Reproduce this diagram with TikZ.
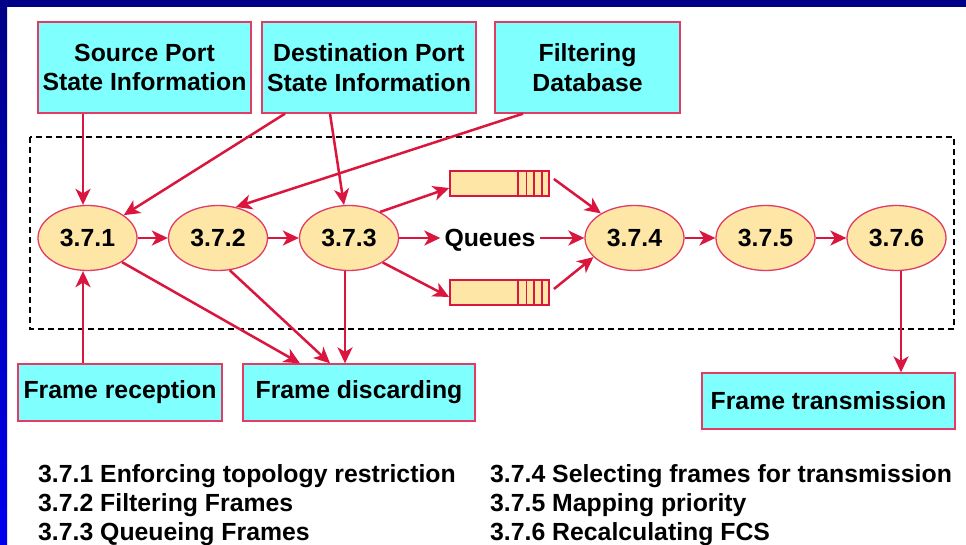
\documentclass[tikz,border=0pt]{standalone}
\usepackage{fontspec}
\setmainfont{Liberation Sans}
\usetikzlibrary{shapes.geometric,arrows.meta,calc}
\definecolor{crim}{RGB}{218,22,62}
\definecolor{boxline}{RGB}{225,60,100}
\definecolor{cyanfill}{RGB}{128,255,255}
\definecolor{ellfill}{RGB}{253,230,166}
\definecolor{navyband}{RGB}{0,0,136}
\definecolor{brightblue}{RGB}{0,0,240}
\begin{document}
\begin{tikzpicture}[x=1pt,y=-1pt,
  txt/.style={font=\fontsize{24.8}{29.3}\selectfont\bfseries},
  infobox/.style={txt, rectangle, draw=boxline, line width=1.3pt, fill=cyanfill, inner sep=0pt, align=center},
  ell/.style={txt, ellipse, draw=boxline, line width=1.3pt, fill=ellfill, minimum width=99pt, minimum height=65pt, inner sep=0pt},
  queue/.style={rectangle, draw=crim, line width=1.8pt, fill=ellfill, minimum width=99pt, minimum height=25pt, inner sep=0pt},
  stripe/.style={draw=crim, line width=1.8pt},
  arr/.style={draw=crim, line width=2.5pt, -{Stealth[length=16pt,width=15pt,inset=4.5pt]}},
  legend/.style={txt, anchor=base west, inner sep=0pt},
  frame/.style={draw=black, line width=1.8pt, dash pattern=on 6pt off 4pt}
]
\useasboundingbox (0,0) rectangle (966,545);
% background
\fill[white] (0,0) rectangle (966,545);
\fill[navyband] (0,0) rectangle (966,7.5);
\shade[top color=navyband, bottom color=brightblue] (0,7.5) rectangle (7,545);

% dashed frame
\draw[frame] (30,137) rectangle (954,329);

% information boxes
\node[infobox, minimum width=213pt, minimum height=91pt] (src) at (144.5,67.5) {Source Port\\State Information};
\node[infobox, minimum width=214pt, minimum height=91pt] (dst) at (369,67.5) {Destination Port\\State Information};
\node[infobox, minimum width=185pt, minimum height=91pt] (fdb) at (587.5,67.5) {Filtering\\Database};
\node[infobox, minimum width=204pt, minimum height=57pt] (rec) at (120,392.5) {Frame reception};
\node[infobox, minimum width=232pt, minimum height=57pt] (dis) at (359,392.5) {Frame discarding};
\node[infobox, minimum width=253pt, minimum height=56pt] (tx) at (828.5,401) {Frame transmission};

% process ellipses
\node[ell] (e1) at (87.5,238) {3.7.1};
\node[ell] (e2) at (218,238) {3.7.2};
\node[ell] (e3) at (349,238) {3.7.3};
\node[ell] (e4) at (634.5,238) {3.7.4};
\node[ell] (e5) at (765.5,238) {3.7.5};
\node[ell] (e6) at (896.5,238) {3.7.6};

% queues
\node[queue] (q1) at (499.5,183.5) {};
\node[queue] (q2) at (499.5,292.5) {};
\foreach \q in {q1,q2}{
  \foreach \f in {0.687,0.768,0.842,0.921}{
    \draw[stripe] ($(\q.north west)!\f!(\q.north east)$) -- ($(\q.south west)!\f!(\q.south east)$);
  }
}
\node[txt, inner sep=4pt] (qt) at (490,240) {Queues};

% helper coordinates
\coordinate (t1) at ([xshift=-4.5pt]e1.north);
\coordinate (b1) at ([xshift=-4.5pt]e1.south);
\coordinate (b3) at ([xshift=-4pt]e3.south);
\coordinate (b6) at ([xshift=4.5pt]e6.south);

% connectors
\draw[arr] (t1 |- src.south) -- (t1);
\draw[arr] ([xshift=-84pt]dst.south) -- (e1);
\draw[arr] ([xshift=-39pt]dst.south) -- (e3);
\draw[arr] ([xshift=-64.5pt]fdb.south) -- (e2.60);
\draw[arr] (e1) -- (e2);
\draw[arr] (e2) -- (e3);
\draw[arr] (e3.40) -- ([yshift=-4.5pt]q1.west);
\draw[arr] (e3) -- (e3 -| qt.west);
\draw[arr] (qt.east |- e4) -- (e4);
\draw[arr] (e3.-36) -- ([yshift=-4.5pt]q2.west);
\draw[arr] ([shift={(4pt,4.5pt)}]q1.east) -- (e4);
\draw[arr] ([shift={(4pt,3.5pt)}]q2.east) -- (e4.205);
\draw[arr] (e4) -- (e5);
\draw[arr] (e5) -- (e6);
\draw[arr] (b6) -- (b6 |- tx.north);
\draw[arr] (e1.-35) -- ([xshift=-59pt]dis.north);
\draw[arr] (e2.-70) -- ([xshift=-29pt]dis.north);
\draw[arr] (b3) -- (b3 |- dis.north);
\draw[arr] (b1 |- rec.north) -- (b1);

% legend
\node[legend] (l1) at (38,482.7) {3.7.1 Enforcing topology restriction};
\node[legend] (l2) at (38,511.5) {3.7.2 Filtering Frames};
\node[legend] (l3) at (38,540.3) {3.7.3 Queueing Frames};
\node[legend] (l4) at (490,482.7) {3.7.4 Selecting frames for transmission};
\node[legend] (l5) at (490,511.5) {3.7.5 Mapping priority};
\node[legend] (l6) at (490,540.3) {3.7.6 Recalculating FCS};
\end{tikzpicture}
\end{document}
